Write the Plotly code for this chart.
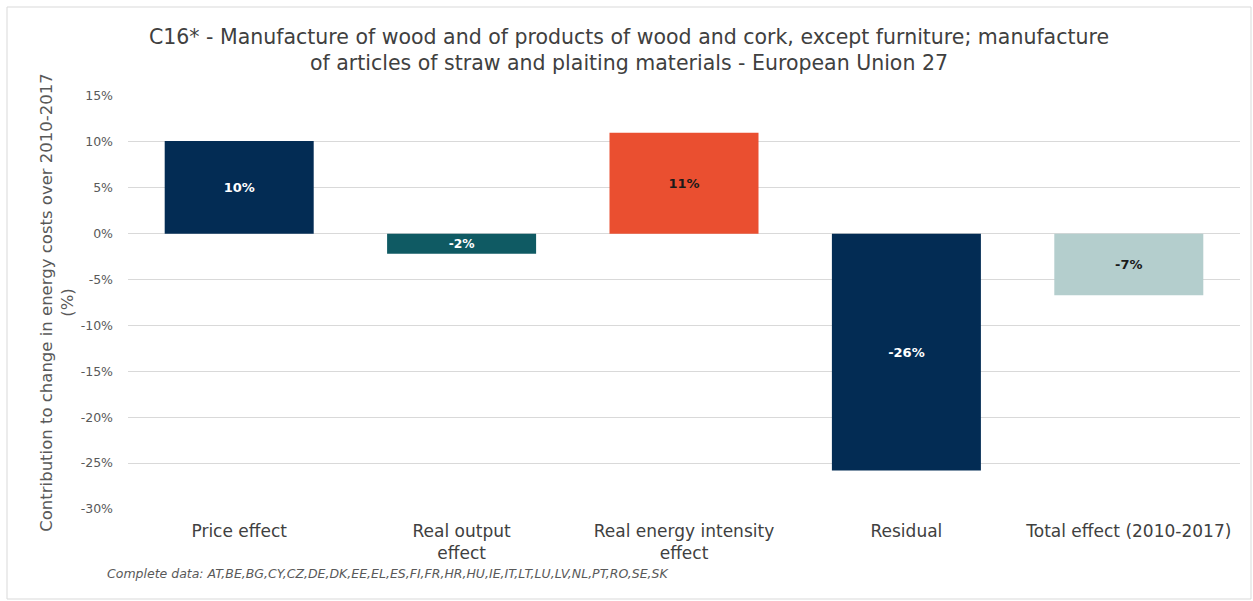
import plotly.graph_objects as go

categories = ["Price effect", "Real output<br>effect", "Real energy intensity<br>effect", "Residual", "Total effect (2010-2017)"]
values = [10.1, -2.2, 11.0, -25.8, -6.7]
labels = ["10%", "-2%", "11%", "-26%", "-7%"]
colors = ["#032c54", "#0f5a63", "#ea4f30", "#032c54", "#b4cecd"]
label_colors = ["white", "white", "#1a1a1a", "white", "#1a1a1a"]
tick_vals = [15, 10, 5, 0, -5, -10, -15, -20, -25, -30]
tick_text = ["15%", "10%", "5%", "0%", "-5%", "-10%", "-15%", "-20%", "-25%", "-30%"]

font_family = "DejaVu Sans, sans-serif"

fig = go.Figure(go.Bar(
    x=categories, y=values,
    marker=dict(color=colors, line=dict(width=0)),
    text=[f"<b>{t}</b>" for t in labels], textposition="inside", insidetextanchor="middle",
    textfont=dict(color=label_colors, size=13, family=font_family),
    width=0.67,
))

fig.update_layout(
    width=1253, height=601,
    paper_bgcolor="white", plot_bgcolor="white",
    margin=dict(l=128, r=13, t=96, b=92),
    title=dict(
        text="C16* - Manufacture of wood and of products of wood and cork, except furniture; manufacture<br>of articles of straw and plaiting materials - European Union 27",
        x=0.502, xanchor="center", y=1 - 43.5 / 601, yanchor="middle",
        font=dict(size=20.5, color="#404040", family=font_family),
    ),
    showlegend=False,
    font=dict(family=font_family, color="#595959"),
)
fig.update_xaxes(
    tickfont=dict(size=17, color="#404040"),
    showgrid=False, showline=False, ticks="", ticklabelstandoff=10,
)
fig.update_yaxes(
    range=[-30, 15], tickvals=tick_vals, ticktext=tick_text,
    showgrid=True, gridcolor="#d9d9d9", gridwidth=1,
    zeroline=False, showline=False, ticks="", ticklabelstandoff=14,
    tickfont=dict(size=12.5, color="#595959"),
    title=dict(text="Contribution to change in energy costs over 2010-2017<br>(%)",
               font=dict(size=16.5, color="#595959"), standoff=2),
)
fig.add_annotation(
    text="<i>Complete data: AT,BE,BG,CY,CZ,DE,DK,EE,EL,ES,FI,FR,HR,HU,IE,IT,LT,LU,LV,NL,PT,RO,SE,SK</i>",
    xref="paper", yref="paper", x=(105 - 128) / 1112, y=-64 / 413, xanchor="left", yanchor="middle",
    showarrow=False, font=dict(size=12.5, color="#595959", family=font_family),
)
fig.add_shape(type="rect", xref="paper", yref="paper",
              x0=(7 - 128) / 1112, x1=(1251 - 128) / 1112, y0=(509 - 599) / 413, y1=(509 - 7) / 413,
              line=dict(color="#d9d9d9", width=1), fillcolor="rgba(0,0,0,0)", layer="below")

fig.write_html("out.html", config={"displayModeBar": False},
               post_script="document.body.style.margin='0';document.body.style.overflow='hidden';")
